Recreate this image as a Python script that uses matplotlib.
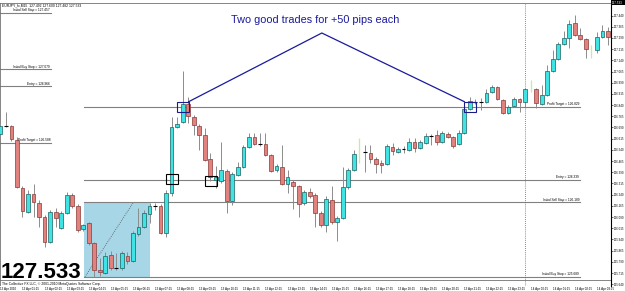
import matplotlib
matplotlib.use("Agg")
import matplotlib.pyplot as plt
import matplotlib.transforms as mtransforms
from matplotlib.patches import Rectangle

plt.rcParams['font.family'] = ['Liberation Sans', 'DejaVu Sans']

# EURJPY M15, one bar per 15 minutes (bar 0 = 13 Apr 00:15)
opens = [126.646, 126.700, 126.700, 126.606, 126.284, 126.124, 126.244, 126.184, 126.090, 125.923,
         126.124, 126.016, 126.117, 126.238, 126.164, 126.010, 126.050, 125.916, 125.735, 125.715,
         125.836, 125.748, 125.748, 125.829, 125.795, 125.976, 126.023, 126.110, 126.164, 126.164,
         125.983, 126.251, 126.693, 126.727, 126.847, 126.760, 126.700, 126.640, 126.479, 126.338,
         126.331, 126.398, 126.197, 126.372, 126.425, 126.559, 126.626, 126.579, 126.579, 126.506,
         126.405, 126.425, 126.311, 126.325, 126.298, 126.184, 126.258, 126.238, 126.117, 126.037,
         126.204, 126.057, 126.083, 126.291, 126.405, 126.519, 126.526, 126.519, 126.479, 126.452,
         126.445, 126.559, 126.526, 126.546, 126.539, 126.593, 126.552, 126.586, 126.633, 126.640,
         126.593, 126.646, 126.626, 126.579, 126.653, 126.814, 126.861, 126.861, 126.861, 126.928,
         126.961, 126.874, 126.787, 126.834, 126.881, 126.861, 126.954, 126.948, 126.847, 126.908,
         127.068, 127.149, 127.249, 127.289, 127.390, 127.310, 127.283, 127.209, 127.209, 127.296,
         127.336]
highs = [126.727, 126.794, 126.706, 126.626, 126.298, 126.271, 126.311, 126.204, 126.104, 126.137,
         126.150, 126.130, 126.258, 126.251, 126.177, 126.043, 126.057, 125.923, 125.815, 125.856,
         125.862, 125.849, 125.862, 125.856, 125.996, 126.150, 126.137, 126.184, 126.184, 126.177,
         126.271, 126.760, 126.760, 127.068, 126.894, 126.774, 126.713, 126.686, 126.519, 126.432,
         126.593, 126.412, 126.392, 126.459, 126.573, 126.653, 126.653, 126.653, 126.653, 126.512,
         126.445, 126.573, 126.405, 126.338, 126.305, 126.271, 126.284, 126.251, 126.130, 126.231,
         126.298, 126.097, 126.425, 126.418, 126.539, 126.619, 126.573, 126.573, 126.492, 126.472,
         126.579, 126.586, 126.559, 126.566, 126.619, 126.619, 126.606, 126.653, 126.646, 126.673,
         126.666, 126.660, 126.633, 126.673, 126.820, 126.894, 126.881, 126.887, 126.948, 126.975,
         126.968, 126.881, 126.841, 126.894, 126.887, 126.954, 127.008, 126.954, 126.975, 127.109,
         127.209, 127.263, 127.336, 127.410, 127.444, 127.356, 127.289, 127.243, 127.330, 127.377,
         127.363]
lows = [126.633, 126.693, 126.599, 126.284, 126.090, 126.117, 126.090, 126.023, 125.889, 125.916,
        126.023, 126.010, 126.110, 126.150, 125.990, 125.996, 125.902, 125.688, 125.695, 125.708,
        125.735, 125.735, 125.735, 125.775, 125.789, 125.963, 126.016, 126.050, 126.137, 125.976,
        125.956, 126.231, 126.686, 126.720, 126.720, 126.640, 126.539, 126.465, 126.331, 126.284,
        126.318, 126.117, 126.171, 126.365, 126.418, 126.552, 126.573, 126.566, 126.499, 126.392,
        126.392, 126.305, 126.251, 126.144, 126.090, 126.171, 126.217, 126.023, 126.023, 125.990,
        126.043, 125.929, 126.077, 126.278, 126.398, 126.452, 126.392, 126.452, 126.385, 126.385,
        126.439, 126.506, 126.519, 126.519, 126.532, 126.526, 126.546, 126.579, 126.573, 126.573,
        126.586, 126.619, 126.552, 126.573, 126.646, 126.807, 126.847, 126.807, 126.854, 126.921,
        126.874, 126.780, 126.780, 126.827, 126.794, 126.827, 126.928, 126.820, 126.841, 126.901,
        127.062, 127.142, 127.243, 127.222, 127.303, 127.276, 127.155, 127.155, 127.189, 127.289,
        127.243]
closes = [126.700, 126.700, 126.613, 126.291, 126.130, 126.244, 126.191, 126.090, 125.923, 126.124,
          126.083, 126.117, 126.238, 126.164, 126.003, 126.037, 125.916, 125.735, 125.722, 125.829,
          125.748, 125.748, 125.849, 125.795, 125.983, 126.023, 126.117, 126.164, 126.164, 125.983,
          126.251, 126.693, 126.713, 126.847, 126.767, 126.706, 126.640, 126.472, 126.358, 126.358,
          126.405, 126.197, 126.378, 126.425, 126.559, 126.626, 126.579, 126.579, 126.506, 126.398,
          126.432, 126.311, 126.358, 126.298, 126.177, 126.258, 126.231, 126.117, 126.037, 126.211,
          126.057, 126.083, 126.291, 126.405, 126.512, 126.519, 126.526, 126.479, 126.445, 126.439,
          126.566, 126.532, 126.546, 126.546, 126.593, 126.552, 126.593, 126.633, 126.633, 126.593,
          126.653, 126.626, 126.566, 126.653, 126.814, 126.867, 126.861, 126.861, 126.921, 126.961,
          126.881, 126.787, 126.827, 126.881, 126.861, 126.948, 126.954, 126.854, 126.908, 127.068,
          127.149, 127.249, 127.289, 127.383, 127.310, 127.283, 127.216, 127.209, 127.296, 127.336,
          127.296]
pale_bars = [65, 96, 107]

time_labels = ['13 Apr 2010'] + ['13 Apr %02d:15' % h for h in range(1, 24)] + \
              ['14 Apr 00:15', '14 Apr 01:15', '14 Apr 02:15', '14 Apr 03:15']
time_label_bars = list(range(0, 109, 4))
day_start_bar = 95

price_ticks = [125.640, 125.715, 125.790, 125.865, 125.940, 126.015, 126.090, 126.165, 126.240,
               126.315, 126.390, 126.465, 126.540, 126.615, 126.690, 126.765, 126.840, 126.915,
               126.990, 127.065, 127.140, 127.215, 127.290, 127.365, 127.440]

# trade levels
left_names = ['Initial Sell Stop', 'Initial Buy Stop', 'Entry', 'Profit Target']
left_levels = [127.457, 127.079, 126.966, 126.588]
right_names = ['Profit Target', 'Entry', 'Initial Sell Stop', 'Initial Buy Stop']
right_levels = [126.829, 126.339, 126.189, 125.689]
left_span = (-1, 9.2)
right_span = (15.1, 105.0)

range_box = (15.1, 27.1, 125.688, 126.184)   # bar from, bar to, low, high
range_diag = ([15.3, 24.0], [125.688, 126.184])
entry_marks = [(31.0, 126.345), (38.1, 126.331)]
target_marks = [(33.0, 126.829), (85.1, 126.829)]
apex = (58.2, 127.323)
last_price = 127.533

W, H = 625, 291
fig = plt.figure(figsize=(W / 100, H / 100), dpi=100)
ax = fig.add_axes([0, 1 - 286 / H, 611 / W, 283 / H])
ax.set_xlim(-0.072, 110.56)
ax.set_ylim(125.628, 127.524)

# range zone
ax.add_patch(Rectangle((range_box[0], range_box[2]), range_box[1] - range_box[0],
                       range_box[3] - range_box[2], facecolor='#a7d6e6', edgecolor='none', zorder=0))
ax.plot(range_diag[0], range_diag[1], color='#505050', lw=0.6, ls=(0, (1, 1.5)), zorder=1)

# level lines
for name, lvl in zip(left_names, left_levels):
    ax.plot(left_span, [lvl, lvl], color='#808080', lw=0.8, zorder=1)
    ax.text(left_span[1] - 0.2, lvl + 0.004, '%s = %.3f' % (name, lvl), fontsize=2.3,
            ha='right', va='bottom', color='black', zorder=5)
for name, lvl in zip(right_names, right_levels):
    ax.plot(right_span, [lvl, lvl], color='#808080', lw=0.8, zorder=1)
    ax.text(right_span[1] - 0.2, lvl + 0.004, '%s = %.3f' % (name, lvl), fontsize=2.3,
            ha='right', va='bottom', color='black', zorder=5)

ax.axvline(day_start_bar, color='#606060', lw=0.6, ls=(0, (1, 1.5)), zorder=1)

# candles
bw = 0.68
for i, (o, h, l, c) in enumerate(zip(opens, highs, lows, closes)):
    if i in pale_bars:
        ax.vlines(i, l, h, color='#c5eaa0', lw=0.9, zorder=2)
        continue
    ax.vlines(i, l, h, color='#8c8c8c', lw=0.7, zorder=2)
    if o == c:
        ax.hlines(o, i - bw / 2, i + bw / 2, color='black', lw=0.8, zorder=3)
    elif c > o:
        ax.add_patch(Rectangle((i - bw / 2, o), bw, c - o, facecolor='#3fe3e3',
                               edgecolor='#1e5f5f', lw=0.5, zorder=3))
    else:
        ax.add_patch(Rectangle((i - bw / 2, c), bw, o - c, facecolor='#e2827f',
                               edgecolor='#8a3a38', lw=0.5, zorder=3))

# entry / target markers
for bx, py in entry_marks:
    ax.add_patch(Rectangle((bx - 1.1, py - 0.034), 2.2, 0.068, facecolor='none',
                           edgecolor='black', lw=0.8, zorder=4))
for bx, py in target_marks:
    ax.add_patch(Rectangle((bx - 1.1, py - 0.034), 2.2, 0.068, facecolor='none',
                           edgecolor='#1a1a8c', lw=0.8, zorder=4))
ax.plot([target_marks[0][0] + 1.1, apex[0], target_marks[1][0] - 1.1],
        [target_marks[0][1] + 0.034, apex[1], target_marks[1][1] + 0.034],
        color='#1a1a9c', lw=0.9, zorder=4)
ax.text(57.0, 127.412, 'Two good trades for +50 pips each', fontsize=7.8, color='#1a1a9c',
        ha='center', va='center', zorder=5)

# axes cosmetics
for s in ['bottom', 'left']:
    ax.spines[s].set_visible(False)
ax.spines['top'].set_color('#707070')
ax.spines['top'].set_linewidth(0.6)
ax.spines['right'].set_color('black')
ax.spines['right'].set_linewidth(0.8)
ax.axhline(125.668, color='#707070', lw=0.6, zorder=1)
ax.axvline(0.0, color='#707070', lw=0.6, zorder=1)

ax.yaxis.tick_right()
ax.set_yticks(price_ticks)
ax.set_yticklabels(['%.3f' % t for t in price_ticks], fontsize=2.1)
ax.tick_params(axis='y', length=1.2, width=0.4, pad=0.6)

ax.set_xticks([])
tb = mtransforms.blended_transform_factory(ax.transData, fig.transFigure)
for b, lab in zip(time_label_bars, time_labels):
    ax.text(b, 1 - 290 / H, lab, fontsize=2.2, ha='left', va='baseline', transform=tb,
            clip_on=False)

# texts outside data
fig.text(2 / W, 1 - 6 / H, 'EURJPY_fx,M15  127.492 127.600 127.482 127.533', fontsize=2.4,
         ha='left', va='baseline')
fig.text(1 / W, 1 - 278 / H, '%.3f' % last_price, fontsize=16, fontweight='bold',
         ha='left', va='baseline')
fig.text(2 / W, 1 - 284.5 / H, 'The Collective FX LLC, \u00a9 2001-2010 MetaQuotes Software Corp.',
         fontsize=2.4, ha='left', va='baseline')
fig.patches.append(Rectangle((611 / W, 1 - 5 / H), 14 / W, 5 / H, transform=fig.transFigure,
                             facecolor='black', edgecolor='none'))
fig.text(612 / W, 1 - 4.2 / H, '%.3f' % last_price, fontsize=2.2, color='white',
         ha='left', va='baseline')

fig.savefig('out.png', dpi=100, facecolor='white')
